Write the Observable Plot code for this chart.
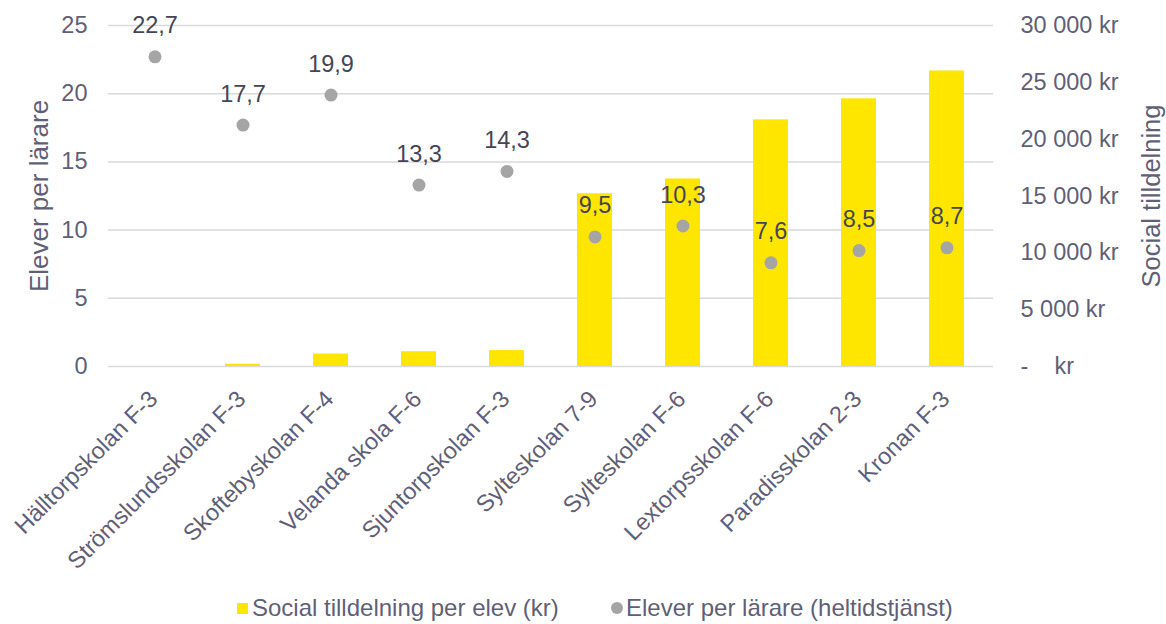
<!DOCTYPE html>
<html>
<head>
<meta charset="utf-8">
<script src="https://cdn.jsdelivr.net/npm/d3@7"></script>
<script src="https://cdn.jsdelivr.net/npm/@observablehq/plot@0.6"></script>
<style>
  html, body { margin: 0; padding: 0; background: #fff; }
  body { width: 1166px; height: 624px; position: relative; overflow: hidden; font-family: "Liberation Sans", Arial, sans-serif; }
  #legend { position: absolute; left: 0; top: 593px; width: 1166px; height: 30px; font-size: 24px; color: #5f5f78; }
  .item { position: absolute; top: 0; display: flex; align-items: center; height: 30px; white-space: nowrap; }
  .sw { width: 11px; height: 11px; margin-right: 4px; }
</style>
</head>
<body>
<div id="chart"></div>
<div id="legend"></div>
<script>
const schools = ["Hälltorpskolan F-3", "Strömslundsskolan F-3", "Skoftebyskolan F-4", "Velanda skola F-6", "Sjuntorpskolan F-3", "Sylteskolan 7-9", "Sylteskolan F-6", "Lextorpsskolan F-6", "Paradisskolan 2-3", "Kronan F-3"];
const socialKr = [0, 200, 1100, 1300, 1400, 15200, 16500, 21700, 23550, 26000];
const eleverPerLarare = [22.7, 17.7, 19.9, 13.3, 14.3, 9.5, 10.3, 7.6, 8.5, 8.7];
const leftTicks = [0, 5, 10, 15, 20, 25];
const rightTicks = [0, 5000, 10000, 15000, 20000, 25000, 30000];
const leftMax = 25;
const rightMax = 30000;
const seriesNames = ["Social tilldelning per elev (kr)", "Elever per lärare (heltidstjänst)"];
const titleLeft = "Elever per lärare";
const titleRight = "Social tilldelning";

const data = schools.map((s, i) => ({school: s, social: socialKr[i], elever: eleverPerLarare[i]}));
const toLeft = v => v * leftMax / rightMax;
const fmtDec = v => v.toFixed(1).replace(".", ",");
const fmtKr = v => v === 0 ? "-\u00a0\u00a0\u00a0\u00a0kr" : d3.format(",")(v).replace(/,/g, "\u00a0") + "\u00a0kr";

const textCol = "#5f5f78";
const font = "Liberation Sans, Arial, sans-serif";
const fs = 23.5;

const chart = Plot.plot({
  width: 1166,
  height: 590,
  marginTop: 25,
  marginBottom: 224,
  marginLeft: 108,
  marginRight: 173,
  style: {fontFamily: font, fontSize: fs + "px", color: textCol, background: "#fff"},
  x: {domain: schools, paddingInner: 0.6, paddingOuter: 0.3, axis: null},
  y: {domain: [0, leftMax], axis: null},
  marks: [
    Plot.ruleY(leftTicks, {stroke: "#d9d9d9", strokeWidth: 1.5}),
    Plot.barY(data, {x: "school", y: d => toLeft(d.social), fill: "#FFE600"}),
    Plot.dot(data, {x: "school", y: "elever", r: 6.5, fill: "#A5A5A5", stroke: "none"}),
    Plot.text(data, {x: "school", y: "elever", text: d => fmtDec(d.elever), dy: -31, fill: "#454555", fontSize: fs}),
    Plot.axisY(leftTicks, {anchor: "left", tickSize: 0, tickPadding: 21, fontSize: fs, fill: textCol, label: null}),
    Plot.axisY(rightTicks.map(toLeft), {anchor: "right", tickSize: 0, tickPadding: 27, textAnchor: "start", fontSize: fs, fill: textCol, label: null, tickFormat: v => fmtKr(Math.round(v * rightMax / leftMax))}),
    Plot.text(data, {x: "school", frameAnchor: "bottom", text: "school", rotate: -45, textAnchor: "end", dx: 4, dy: 34, fill: textCol, fontSize: fs}),
    Plot.text([titleLeft], {frameAnchor: "left", text: d => d, rotate: -90, textAnchor: "middle", dx: -69, fill: textCol, fontSize: 26}),
    Plot.text([titleRight], {frameAnchor: "right", text: d => d, rotate: -90, textAnchor: "middle", dx: 158, fill: textCol, fontSize: 25.5})
  ]
});
document.getElementById("chart").appendChild(chart);

const legend = document.getElementById("legend");
const lx = [237, 611];
seriesNames.forEach((n, i) => {
  const it = document.createElement("div");
  it.className = "item";
  it.style.left = lx[i] + "px";
  const sw = document.createElement("div");
  sw.className = "sw";
  sw.style.background = i === 0 ? "#FFE600" : "#A5A5A5";
  if (i === 1) { sw.style.borderRadius = "50%"; sw.style.width = "12px"; sw.style.height = "12px"; sw.style.marginRight = "3px"; }
  it.appendChild(sw);
  const t = document.createElement("span");
  t.textContent = n;
  it.appendChild(t);
  legend.appendChild(it);
});
</script>
</body>
</html>
